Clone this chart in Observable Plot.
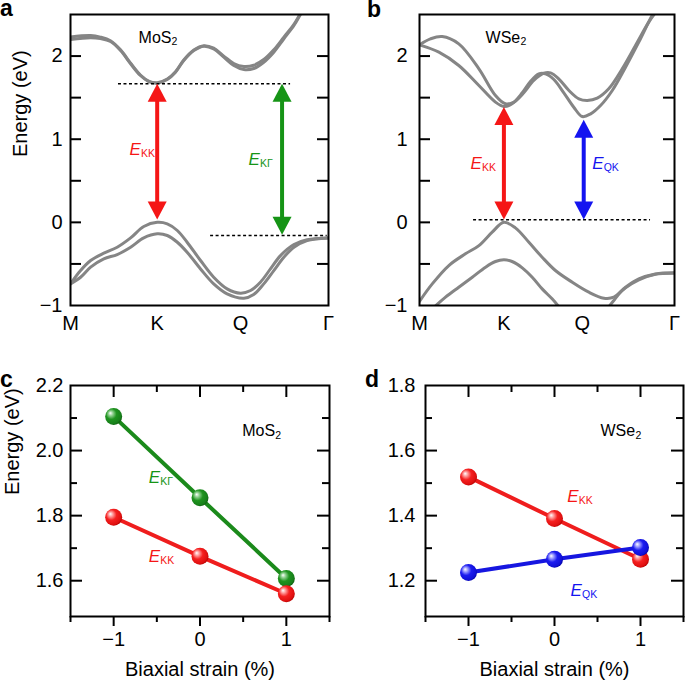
<!DOCTYPE html>
<html>
<head>
<meta charset="utf-8">
<script src="https://cdn.jsdelivr.net/npm/d3@7"></script>
<script src="https://cdn.jsdelivr.net/npm/@observablehq/plot@0.6"></script>
<style>
  body { margin: 0; background: #fff; }
  #fig { position: relative; width: 685px; height: 681px; overflow: hidden; background: #fff;
         font-family: "Liberation Sans", Arial, Helvetica, sans-serif; }
  .panel { position: absolute; }
  .lett { position: absolute; font-weight: bold; font-size: 23px; line-height: 0.75; color: #000; }
</style>
</head>
<body>
<div id="fig">
  <svg width="0" height="0" style="position:absolute">
    <defs>
      <radialGradient id="gradRed" cx="0.42" cy="0.42" r="0.62" fx="0.3" fy="0.3">
        <stop offset="0" stop-color="#ffffff"/>
        <stop offset="0.22" stop-color="#ff9a9a"/>
        <stop offset="0.5" stop-color="#f52020"/>
        <stop offset="0.85" stop-color="#e01010"/>
        <stop offset="1" stop-color="#b00000"/>
      </radialGradient>
      <radialGradient id="gradGreen" cx="0.42" cy="0.42" r="0.62" fx="0.3" fy="0.3">
        <stop offset="0" stop-color="#ffffff"/>
        <stop offset="0.22" stop-color="#8fd08f"/>
        <stop offset="0.5" stop-color="#1f941f"/>
        <stop offset="0.85" stop-color="#17801a"/>
        <stop offset="1" stop-color="#0d5a0d"/>
      </radialGradient>
      <radialGradient id="gradBlue" cx="0.42" cy="0.42" r="0.62" fx="0.3" fy="0.3">
        <stop offset="0" stop-color="#ffffff"/>
        <stop offset="0.22" stop-color="#9a9aff"/>
        <stop offset="0.5" stop-color="#1c1cf0"/>
        <stop offset="0.85" stop-color="#1010d8"/>
        <stop offset="1" stop-color="#0000a0"/>
      </radialGradient>
    </defs>
  </svg>
</div>
<script>
// ================= DATA =================
const pathLabels = ["M", "K", "Q", "Γ"];
const kTicksMoS2 = [0, 0.336, 0.659, 1];
const kTicksWSe2 = [0, 0.331, 0.638, 1];

// MoS2 bands: [k (normalised path), energy eV]
const mos2CB1 = [[0,2.20],[0.078,2.22],[0.116,2.21],[0.155,2.175],[0.194,2.067],[0.233,1.907],[0.271,1.766],[0.303,1.694],[0.336,1.674],[0.375,1.718],[0.407,1.806],[0.439,1.947],[0.478,2.067],[0.517,2.119],[0.555,2.087],[0.594,1.987],[0.633,1.887],[0.672,1.838],[0.710,1.85],[0.749,1.926],[0.788,2.047],[0.827,2.208],[0.866,2.368],[0.891,2.5],[0.91,2.6]];
const mos2CB2 = [[0,2.23],[0.078,2.247],[0.116,2.228],[0.155,2.185],[0.194,2.075],[0.233,1.915],[0.271,1.772],[0.303,1.70],[0.336,1.68],[0.375,1.724],[0.407,1.812],[0.439,1.953],[0.478,2.073],[0.517,2.125],[0.555,2.095],[0.594,2.00],[0.633,1.91],[0.672,1.875],[0.710,1.89],[0.749,1.958],[0.788,2.075],[0.827,2.228],[0.866,2.38],[0.891,2.51],[0.91,2.6]];
const mos2VB1 = [[0,-0.74],[0.039,-0.58],[0.078,-0.459],[0.129,-0.371],[0.181,-0.299],[0.233,-0.187],[0.284,-0.05],[0.336,0.0],[0.375,-0.018],[0.414,-0.098],[0.452,-0.239],[0.504,-0.459],[0.555,-0.66],[0.607,-0.80],[0.659,-0.852],[0.698,-0.82],[0.736,-0.72],[0.775,-0.56],[0.814,-0.40],[0.866,-0.267],[0.917,-0.21],[1,-0.187]];
const mos2VB2 = [[0,-0.74],[0.039,-0.66],[0.078,-0.539],[0.129,-0.439],[0.181,-0.387],[0.233,-0.299],[0.284,-0.187],[0.336,-0.138],[0.375,-0.158],[0.414,-0.239],[0.452,-0.359],[0.504,-0.56],[0.555,-0.74],[0.607,-0.86],[0.672,-0.912],[0.710,-0.868],[0.749,-0.74],[0.788,-0.58],[0.827,-0.42],[0.866,-0.30],[0.917,-0.219],[1,-0.187]];

// WSe2 bands
const wse2CB1 = [[0,2.135],[0.076,2.047],[0.154,1.887],[0.233,1.646],[0.298,1.446],[0.331,1.393],[0.363,1.426],[0.403,1.558],[0.435,1.694],[0.468,1.786],[0.494,1.786],[0.527,1.718],[0.566,1.558],[0.605,1.385],[0.638,1.273],[0.671,1.305],[0.710,1.405],[0.756,1.586],[0.808,1.866],[0.860,2.167],[0.912,2.488],[0.925,2.55]];
const wse2CB2 = [[0,2.135],[0.043,2.207],[0.089,2.235],[0.154,2.147],[0.233,1.847],[0.298,1.526],[0.337,1.426],[0.370,1.446],[0.409,1.558],[0.448,1.706],[0.488,1.794],[0.514,1.798],[0.546,1.726],[0.586,1.586],[0.625,1.486],[0.658,1.466],[0.697,1.494],[0.742,1.606],[0.795,1.847],[0.847,2.127],[0.899,2.408],[0.932,2.55]];
const wse2VB1 = [[0,-0.95],[0.05,-0.74],[0.115,-0.519],[0.180,-0.379],[0.233,-0.279],[0.285,-0.118],[0.331,0.0],[0.376,-0.066],[0.429,-0.239],[0.481,-0.419],[0.533,-0.579],[0.599,-0.72],[0.664,-0.84],[0.723,-0.912],[0.762,-0.90],[0.808,-0.78],[0.860,-0.68],[0.925,-0.62],[1,-0.607]];
const wse2VB2 = [[0.063,-1.005],[0.102,-0.90],[0.154,-0.78],[0.207,-0.66],[0.259,-0.539],[0.298,-0.471],[0.331,-0.451],[0.363,-0.471],[0.403,-0.547],[0.442,-0.66],[0.481,-0.80],[0.520,-0.92],[0.544,-1.005]];
const wse2VB3 = [[0.745,-1.005],[0.762,-0.94],[0.782,-0.86],[0.808,-0.788],[0.860,-0.692],[0.925,-0.625],[1,-0.612]];

// Strain dependence (biaxial strain %, energy eV)
const strain = [-1, 0, 1];
const mos2EKGamma = [2.105, 1.855, 1.607];
const mos2EKK = [1.795, 1.675, 1.56];
const wse2EKK = [1.519, 1.391, 1.266];
const wse2EQK = [1.225, 1.266, 1.302];

// Annotations (data units)
const arrowsMoS2 = [{k: 0.336, lo: 0.035, hi: 1.667, c: "red"}, {k: 0.82, lo: -0.15, hi: 1.667, c: "green"}];
const dashesMoS2 = [{k1: 0.186, k2: 0.853, e: 1.667}, {k1: 0.543, k2: 0.995, e: -0.158}];
const arrowsWSe2 = [{k: 0.331, lo: 0.035, hi: 1.387, c: "red"}, {k: 0.644, lo: 0.035, hi: 1.235, c: "blue"}];
const dashesWSe2 = [{k1: 0.212, k2: 0.906, e: 0.03}];
const labelsMoS2 = [{x: 0.229, y: 0.874, main: "E", sub: "KK", c: "red"}, {x: 0.69, y: 0.75, main: "E", sub: "KΓ", c: "green"}];
const labelsWSe2 = [{x: 0.2, y: 0.704, main: "E", sub: "KK", c: "red"}, {x: 0.677, y: 0.704, main: "E", sub: "QK", c: "blue"}];
const labelsC = [{x: -0.593, y: 1.916, main: "E", sub: "KΓ", c: "green"}, {x: -0.593, y: 1.675, main: "E", sub: "KK", c: "red"}];
const labelsD = [{x: 0.148, y: 1.458, main: "E", sub: "KK", c: "red"}, {x: 0.186, y: 1.170, main: "E", sub: "QK", c: "blue"}];
const matA = {x: 0.264, y: 2.22, main: "MoS", sub: "2"};
const matB = {x: 0.259, y: 2.217, main: "WSe", sub: "2"};
const matC = {x: 0.489, y: 2.059, main: "MoS", sub: "2"};
const matD = {x: 0.535, y: 1.659, main: "WSe", sub: "2"};

// ================= STYLE =================
const FONT = '"Liberation Sans", Arial, Helvetica, sans-serif';
const COL = {red: "#f51616", green: "#169416", blue: "#1414f0", gray: "#858585"};
const LINECOL = {red: "#ef1d1d", green: "#1b8a1b", blue: "#1616e0"};
const GRAD = {red: "url(#gradRed)", green: "url(#gradGreen)", blue: "url(#gradBlue)"};

const headUp = {draw(ctx) { ctx.moveTo(0, 0); ctx.lineTo(-9.5, 18); ctx.lineTo(9.5, 18); ctx.closePath(); }};
const headDown = {draw(ctx) { ctx.moveTo(0, 0); ctx.lineTo(-9.5, -18); ctx.lineTo(9.5, -18); ctx.closePath(); }};

function subLabel(lab, color, mainSize, subSize, subDx, italic) {
  return [
    Plot.text([lab], {x: "x", y: "y", text: "main", fill: color, fontSize: mainSize,
      fontStyle: italic ? "italic" : "normal", textAnchor: "start"}),
    Plot.text([lab], {x: "x", y: "y", text: "sub", fill: color, fontSize: subSize,
      textAnchor: "start", dx: subDx, dy: 4})
  ];
}

function arrowMarks(a) {
  const col = COL[a.c];
  return [
    Plot.ruleX([a], {x: "k", y1: "hi", y2: "lo", stroke: col, strokeWidth: 4, insetTop: 12, insetBottom: 12}),
    Plot.dot([a], {x: "k", y: "hi", symbol: headUp, fill: col, stroke: "none", r: 5}),
    Plot.dot([a], {x: "k", y: "lo", symbol: headDown, fill: col, stroke: "none", r: 5})
  ];
}

function bandPanel({width, ml, mr, kTicks, bands, arrows, dashes, labels, mat, tickPad}) {
  const height = 340, mt = 14, mb = 35;
  const fw = width - ml - mr;
  const yTicksIn = [-0.5, 0, 0.5, 1, 1.5, 2];
  return Plot.plot({
    width, height, marginLeft: ml, marginRight: mr, marginTop: mt, marginBottom: mb,
    style: {fontFamily: FONT, fontSize: "20px", color: "#000", background: "transparent", overflow: "visible"},
    x: {domain: [0, 1]},
    y: {domain: [-1, 2.5]},
    marks: [
      ...bands.map(b => Plot.line(b, {x: d => d[0], y: d => d[1], stroke: COL.gray, strokeWidth: 3, curve: "catmull-rom", clip: true})),
      ...dashes.map(d => Plot.ruleY([d], {y: "e", x1: "k1", x2: "k2", stroke: "#000", strokeWidth: 1.5, strokeDasharray: "3,2.5"})),
      ...arrows.flatMap(arrowMarks),
      ...labels.flatMap(l => subLabel(l, COL[l.c], 17, 10.5, 11.5, true)),
      ...subLabel(mat, "#000", 16, 10.5, mat.main === "MoS" ? 33 : 35, false),
      Plot.frame({stroke: "#000", strokeWidth: 2}),
      Plot.tickY(yTicksIn, {y: d => d, insetRight: fw - 11, strokeWidth: 2}),
      Plot.tickY(yTicksIn, {y: d => d, insetLeft: fw - 11, strokeWidth: 2}),
      Plot.axisY({ticks: [-1, 0, 1, 2], tickSize: 0, tickPadding: tickPad, label: null, tickFormat: d3.format("d")}),
      Plot.axisX({ticks: kTicks, tickSize: 0, tickPadding: 10, label: null,
        tickFormat: d => pathLabels[kTicks.indexOf(d)]}),
      ...(ml < 75 ? [Plot.text([0], {frameAnchor: "left", text: () => "Energy (eV)", rotate: -90, dx: -50, dy: -3, fontSize: 20})] : [])
    ]
  });
}

function strainPanel({width, ml, mr, yDomain, yMajor, yMinor, series, labels, mat, tickPad, yLabel}) {
  const height = 341, mt = 45, mb = 65;
  const fw = width - ml - mr, fh = height - mt - mb;
  const xMajor = [-1, 0, 1], xMinor = [-0.5, 0.5], xMinorB = [-1.5, -0.5, 0.5, 1.5];
  return Plot.plot({
    width, height, marginLeft: ml, marginRight: mr, marginTop: mt, marginBottom: mb,
    style: {fontFamily: FONT, fontSize: "20px", color: "#000", background: "transparent", overflow: "visible"},
    x: {domain: [-1.5, 1.5]},
    y: {domain: yDomain},
    marks: [
      ...series.map(s => Plot.line(strain.map((v, i) => ({s: v, e: s.values[i]})), {x: "s", y: "e", stroke: LINECOL[s.c], strokeWidth: 4})),
      ...series.map(s => Plot.dot(strain.map((v, i) => ({s: v, e: s.values[i]})), {x: "s", y: "e", r: 8.5, fill: GRAD[s.c], stroke: "none"})),
      ...labels.flatMap(l => subLabel(l, COL[l.c], 17, 10.5, 11.5, true)),
      ...subLabel(mat, "#000", 16, 10.5, mat.main === "MoS" ? 33 : 35, false),
      Plot.frame({stroke: "#000", strokeWidth: 2}),
      Plot.tickY(yMajor, {y: d => d, insetRight: fw - 12, strokeWidth: 2}),
      Plot.tickY(yMinor, {y: d => d, insetRight: fw - 7, strokeWidth: 2}),
      Plot.tickY(yMajor, {y: d => d, insetLeft: fw - 12, strokeWidth: 2}),
      Plot.tickY(yMinor, {y: d => d, insetLeft: fw - 7, strokeWidth: 2}),
      Plot.tickX(xMajor, {x: d => d, insetBottom: fh - 12, strokeWidth: 2}),
      Plot.tickX(xMinor, {x: d => d, insetBottom: fh - 7, strokeWidth: 2}),
      Plot.axisY({ticks: yMajor.concat([yDomain[1]]), tickSize: 0, tickPadding: tickPad, label: null, tickFormat: d3.format(".1f")}),
      Plot.axisX({ticks: xMajor, tickSize: 10, tickPadding: 5, label: null, strokeWidth: 2, tickFormat: d3.format("d")}),
      Plot.axisX({ticks: xMinorB, tickSize: 6, label: null, strokeWidth: 2, tickFormat: () => ""}),
      Plot.text([0], {frameAnchor: "bottom", text: () => "Biaxial strain (%)", dy: 59, fontSize: 20}),
      ...(yLabel ? [Plot.text([0], {frameAnchor: "left", text: () => "Energy (eV)", rotate: -90, dx: -58, dy: -6, fontSize: 20})] : [])
    ]
  });
}

const fig = document.getElementById("fig");
function place(node, left, top) {
  const div = document.createElement("div");
  div.className = "panel";
  div.style.left = left + "px";
  div.style.top = top + "px";
  div.appendChild(node);
  fig.appendChild(div);
}
function letter(t, left, top) {
  const d = document.createElement("div");
  d.className = "lett";
  d.textContent = t;
  d.style.left = left + "px";
  d.style.top = top + "px";
  fig.appendChild(d);
}

place(bandPanel({width: 340, ml: 70, mr: 12, kTicks: kTicksMoS2,
  bands: [mos2CB1, mos2CB2, mos2VB1, mos2VB2], arrows: arrowsMoS2, dashes: dashesMoS2,
  labels: labelsMoS2, mat: matA, tickPad: 8}), 0, 0);

place(bandPanel({width: 345, ml: 79, mr: 11, kTicks: kTicksWSe2,
  bands: [wse2CB1, wse2CB2, wse2VB1, wse2VB2, wse2VB3], arrows: arrowsWSe2, dashes: dashesWSe2,
  labels: labelsWSe2, mat: matB, tickPad: 12}), 340, 0);

place(strainPanel({width: 340, ml: 70, mr: 11, yDomain: [1.49, 2.2], yMajor: [1.6, 1.8, 2.0], yMinor: [1.7, 1.9, 2.1],
  series: [{values: mos2EKGamma, c: "green"}, {values: mos2EKK, c: "red"}],
  labels: labelsC, mat: matC, tickPad: 7, yLabel: true}), 0, 340);

place(strainPanel({width: 345, ml: 85, mr: 2, yDomain: [1.09, 1.8], yMajor: [1.2, 1.4, 1.6], yMinor: [1.3, 1.5, 1.7],
  series: [{values: wse2EKK, c: "red"}, {values: wse2EQK, c: "blue"}],
  labels: labelsD, mat: matD, tickPad: 10, yLabel: false}), 340, 340);

letter("a", 0, 0);
letter("b", 367, 1);
letter("c", 0, 371);
letter("d", 365, 371);
</script>
</body>
</html>
